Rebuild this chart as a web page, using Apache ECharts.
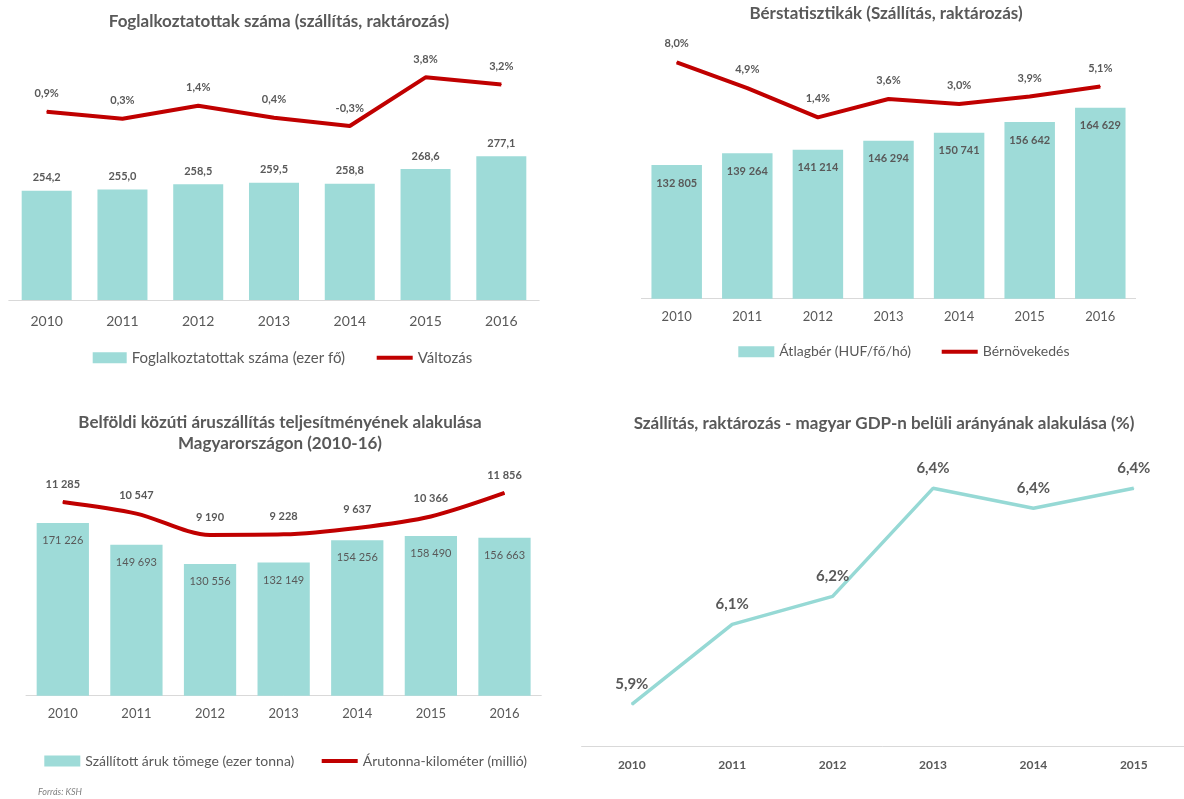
<!DOCTYPE html>
<html>
<head>
<meta charset="utf-8">
<script src="https://cdn.jsdelivr.net/npm/echarts@6/dist/echarts.min.js"></script>
<style>
html,body{margin:0;padding:0;background:#fff;}
#c{width:1184px;height:799px;}
</style>
</head>
<body>
<div id="c"></div>
<script>
// ---- data ----
const years = ['2010', '2011', '2012', '2013', '2014', '2015', '2016'];
const employed = [254.2, 255.0, 258.5, 259.5, 258.8, 268.6, 277.1];
const employedChange = [0.9, 0.3, 1.4, 0.4, -0.3, 3.8, 3.2];
const wage = [132805, 139264, 141214, 146294, 150741, 156642, 164629];
const wageGrowth = [8.0, 4.9, 1.4, 3.6, 3.0, 3.9, 5.1];
const freight = [171226, 149693, 130556, 132149, 154256, 158490, 156663];
const tonKm = [11285, 10547, 9190, 9228, 9637, 10366, 11856];
const gdpYears = ['2010', '2011', '2012', '2013', '2014', '2015'];
const gdpShare = [5.90, 6.10, 6.17, 6.44, 6.39, 6.44];

const titles = [
  'Foglalkoztatottak száma (szállítás, raktározás)',
  'Bérstatisztikák (Szállítás, raktározás)',
  'Belföldi közúti áruszállítás teljesítményének alakulása\nMagyarországon (2010-16)',
  'Szállítás, raktározás - magyar GDP-n belüli arányának alakulása (%)'
];
const names = {
  emp: 'Foglalkoztatottak száma (ezer fő)',
  empCh: 'Változás',
  wage: 'Átlagbér (HUF/fő/hó)',
  wageGr: 'Bérnövekedés',
  fr: 'Szállított áruk tömege (ezer tonna)',
  tk: 'Árutonna-kilométer (millió)',
  gdp: 'GDP arány'
};

// ---- styling ----
const TXT = '#595959';
const BAR = '#9EDBD8';
const RED = '#C00000';
const TEAL = '#96D9D5';
const FONT = 'Lato';

const dec1 = v => v.toFixed(1).replace('.', ',');
const pct = v => dec1(v) + '%';
const thou = v => String(v).replace(/\B(?=(\d{3})+(?!\d))/g, ' ');

function xAxis(gridIndex, data, fontSize, margin, bold) {
  return {
    type: 'category', gridIndex, data,
    axisLine: { onZero: false, lineStyle: { color: '#D9D9D9', width: 1 } },
    axisTick: { show: false },
    axisLabel: { color: TXT, fontSize, margin, fontFamily: FONT, fontWeight: bold ? 'bold' : 'normal' },
    splitLine: { show: false }
  };
}
function yAxis(gridIndex, min, max) {
  return { type: 'value', gridIndex, min, max, show: false, splitLine: { show: false } };
}
function titleOf(text, cx, top, lh) {
  return {
    text, left: cx, top, textAlign: 'center', padding: 0,
    textStyle: { color: TXT, fontSize: 17, fontWeight: 'bold', fontFamily: FONT, lineHeight: lh }
  };
}
function legendOf(name, left, cy, w, h, fs) {
  return {
    data: [{ name, icon: 'rect' }], left, top: cy - 8, padding: 0,
    itemWidth: w, itemHeight: h, selectedMode: false,
    textStyle: { color: TXT, fontSize: fs, fontFamily: FONT, lineHeight: 16 }
  };
}
function lineLabel(distance, fontSize, fmt) {
  return { show: true, position: 'top', distance, color: TXT, fontSize, fontWeight: 'bold', formatter: p => fmt(p.value) };
}

const option = {
  animation: false,
  textStyle: { fontFamily: FONT },
  title: [
    titleOf(titles[0], 279, 11.7, 20),
    titleOf(titles[1], 886, 3.3, 20),
    titleOf(titles[2], 280, 411.8, 21),
    titleOf(titles[3], 884, 413.3, 20),
    { text: 'Forrás: KSH', left: 38, top: 788, padding: 0,
      textStyle: { color: '#7F7F7F', fontSize: 9, fontStyle: 'italic', fontWeight: 'normal', fontFamily: FONT } }
  ],
  legend: [
    legendOf(names.emp, 92.7, 357.7, 34, 11, 15),
    legendOf(names.empCh, 376.7, 357.7, 36, 4, 15),
    legendOf(names.wage, 738.3, 351.7, 36, 11, 14),
    legendOf(names.wageGr, 941.7, 351.7, 36, 4, 14),
    legendOf(names.fr, 44.3, 761, 36, 11, 14),
    legendOf(names.tk, 321.7, 761, 36, 4, 14)
  ],
  grid: [
    { left: 8.8, width: 530.4, top: 60, height: 240 },
    { left: 641.4, width: 494.2, top: 40, height: 258.7 },
    { left: 26, width: 515.3, top: 470, height: 225.7 },
    { left: 581.6, width: 608.4, top: 450, height: 296 }
  ],
  xAxis: [
    xAxis(0, years, 14, 14.7, false),
    xAxis(1, years, 13, 12, false),
    xAxis(2, years, 13, 12, false),
    xAxis(3, gdpYears, 12, 13, true)
  ],
  yAxis: [
    yAxis(0, 181.4, 341.2),
    yAxis(0, -14.97, 5.26),
    yAxis(1, 58548, 202230),
    yAxis(1, -20.37, 10.68),
    yAxis(2, 0, 223909),
    yAxis(2, -1016, 13314),
    yAxis(3, 5.796, 6.5358)
  ],
  series: [
    {
      name: names.emp, type: 'bar', xAxisIndex: 0, yAxisIndex: 0, data: employed,
      barWidth: '66%', itemStyle: { color: BAR },
      label: { show: true, position: 'top', distance: 7.5, color: TXT, fontSize: 11, fontWeight: 'bold', formatter: p => dec1(p.value) }
    },
    {
      name: names.empCh, type: 'line', xAxisIndex: 0, yAxisIndex: 1, data: employedChange,
      color: RED, lineStyle: { color: RED, width: 4 }, symbol: 'circle', symbolSize: 1, itemStyle: { color: RED },
      label: lineLabel(12, 11, pct)
    },
    {
      name: names.wage, type: 'bar', xAxisIndex: 1, yAxisIndex: 2, data: wage,
      barWidth: '71.5%', itemStyle: { color: BAR },
      label: { show: true, position: 'insideTop', distance: 12.5, color: TXT, fontSize: 11, fontWeight: 'bold', formatter: p => thou(p.value) }
    },
    {
      name: names.wageGr, type: 'line', xAxisIndex: 1, yAxisIndex: 3, data: wageGrowth,
      color: RED, lineStyle: { color: RED, width: 4 }, symbol: 'circle', symbolSize: 1, itemStyle: { color: RED },
      label: lineLabel(12.5, 11, pct)
    },
    {
      name: names.fr, type: 'bar', xAxisIndex: 2, yAxisIndex: 4, data: freight,
      barWidth: '71%', itemStyle: { color: BAR },
      label: { show: true, position: 'insideTop', distance: 12, color: TXT, fontSize: 11, fontWeight: 'normal', formatter: p => thou(p.value) }
    },
    {
      name: names.tk, type: 'line', xAxisIndex: 2, yAxisIndex: 5, data: tonKm, smooth: 0.3,
      color: RED, lineStyle: { color: RED, width: 4 }, symbol: 'circle', symbolSize: 1, itemStyle: { color: RED },
      label: lineLabel(12, 11, thou)
    },
    {
      name: names.gdp, type: 'line', xAxisIndex: 3, yAxisIndex: 6, data: gdpShare,
      color: TEAL, lineStyle: { color: TEAL, width: 3.5 }, symbol: 'circle', symbolSize: 1, itemStyle: { color: TEAL },
      label: lineLabel(12.5, 15, pct)
    }
  ]
};

const chart = echarts.init(document.getElementById('c'), null, { renderer: 'canvas' });
chart.setOption(option);
</script>
</body>
</html>
